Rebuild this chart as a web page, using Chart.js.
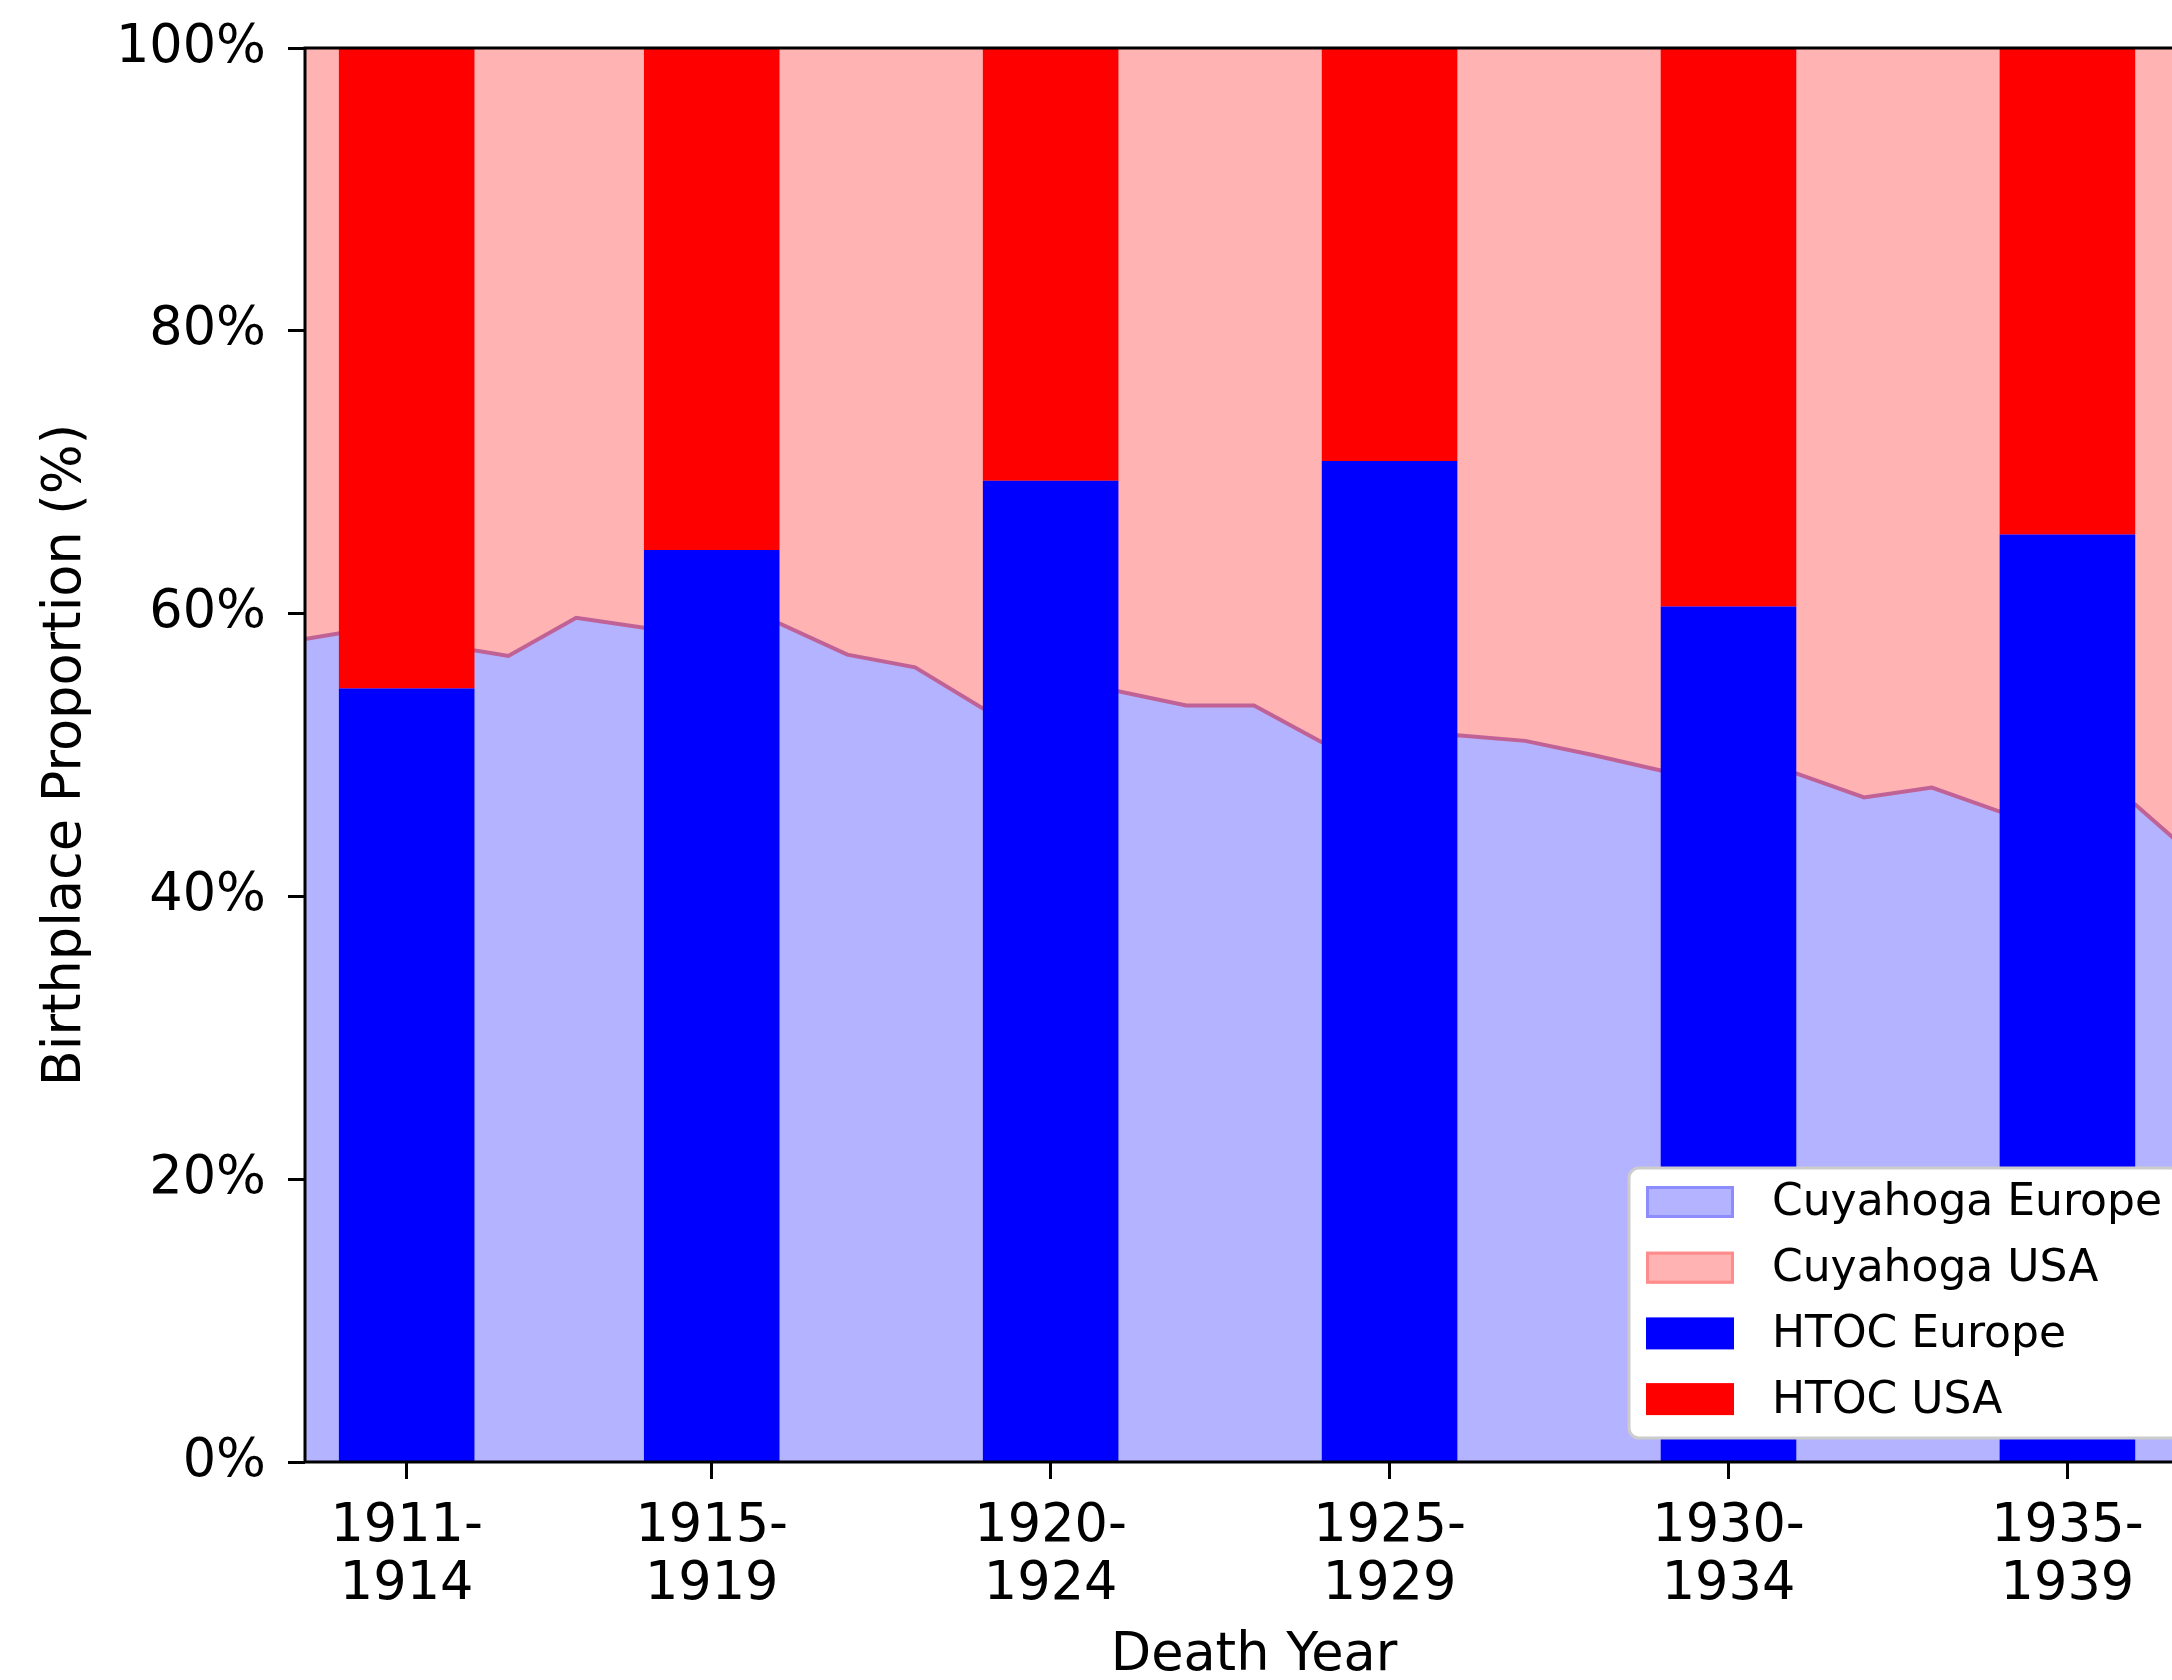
<!DOCTYPE html>
<html>
<head>
<meta charset="utf-8">
<title>Birthplace Proportion by Death Year</title>
<script src="https://cdn.jsdelivr.net/npm/chart.js@4.4.1/dist/chart.umd.min.js"></script>
<style>
  html, body { margin: 0; padding: 0; background: #fff; overflow: hidden; }
  canvas { display: block; }
</style>
</head>
<body>
<canvas id="chart" width="2260" height="1680"></canvas>
<script>
// Cuyahoga county, yearly birthplace shares (%)
const years = [1911, 1912, 1913, 1914, 1915, 1916, 1917, 1918, 1919, 1920,
               1921, 1922, 1923, 1924, 1925, 1926, 1927, 1928, 1929, 1930,
               1931, 1932, 1933, 1934, 1935, 1936, 1937, 1938, 1939];
const cuyahogaEurope = [58.2, 59.0, 57.8, 57.0, 59.7, 59.0, 59.4, 59.3, 57.1, 56.2,
                        53.3, 53.9, 54.5, 53.5, 53.5, 50.9, 51.2, 51.4, 51.0, 50.0,
                        48.9, 48.9, 48.7, 47.0, 47.7, 46.0, 46.3, 46.5, 42.3];
const cuyahogaUSA = [41.8, 41.0, 42.2, 43.0, 40.3, 41.0, 40.6, 40.7, 42.9, 43.8,
                     46.7, 46.1, 45.5, 46.5, 46.5, 49.1, 48.8, 48.6, 49.0, 50.0,
                     51.1, 51.1, 51.3, 53.0, 52.3, 54.0, 53.7, 53.5, 57.7];

// HTOC, five-year groups (%)
const groupCenters = [1912.5, 1917, 1922, 1927, 1932, 1937];
const groupLabels = [['1911-', '1914'], ['1915-', '1919'], ['1920-', '1924'],
                     ['1925-', '1929'], ['1930-', '1934'], ['1935-', '1939']];
const htocEurope = [54.7, 64.5, 69.4, 70.8, 60.5, 65.6];
const htocUSA = [45.3, 35.5, 30.6, 29.2, 39.5, 34.4];

const yTicks = [0, 20, 40, 60, 80, 100];

const FONT = 'DejaVu Sans';
const FONT_SIZE = 52.5;

// matplotlib-like frame around the axes
const spines = {
    id: 'spines',
    afterDatasetsDraw(chart) {
        const { ctx, chartArea: a } = chart;
        ctx.save();
        ctx.strokeStyle = '#000';
        ctx.lineWidth = 3;
        ctx.strokeRect(a.left, a.top, a.right - a.left, a.bottom - a.top);
        ctx.restore();
    }
};

// legend box in the lower right corner of the axes
const boxLegend = {
    id: 'boxLegend',
    afterDraw(chart) {
        const { ctx, chartArea: a } = chart;
        const right = a.right - 22, bottom = a.bottom - 24;
        const w = 552, h = 270;
        const left = right - w, top = bottom - h;
        ctx.save();
        ctx.beginPath();
        ctx.roundRect(left, top, w, h, 10);
        ctx.fillStyle = '#ffffff';
        ctx.fill();
        ctx.strokeStyle = '#cccccc';
        ctx.lineWidth = 3;
        ctx.stroke();

        ctx.font = '44px "' + FONT + '"';
        ctx.textBaseline = 'middle';
        ctx.textAlign = 'left';
        chart.data.datasets.forEach((ds, i) => {
            const cy = top + 34 + i * 65.7;
            const hx = left + 17;
            ctx.fillStyle = ds.backgroundColor;
            ctx.fillRect(hx, cy - 16, 88, 32);
            if (ds.legendEdge) {
                ctx.strokeStyle = ds.legendEdge;
                ctx.lineWidth = 3;
                ctx.strokeRect(hx + 1.5, cy - 14.5, 85, 29);
            }
            ctx.fillStyle = '#000';
            ctx.fillText(ds.label, left + 143, cy + 2);
        });
        ctx.restore();
    }
};

const ctx = document.getElementById('chart').getContext('2d');
new Chart(ctx, {
    type: 'bar',
    data: {
        datasets: [
            {
                type: 'line',
                label: 'Cuyahoga Europe',
                data: years.map((yr, i) => ({ x: yr, y: cuyahogaEurope[i] })),
                stack: 'cuyahoga',
                fill: 'origin',
                backgroundColor: 'rgb(179,179,255)',
                borderColor: 'rgb(192,98,150)',
                borderWidth: 4,
                legendEdge: 'rgb(140,140,255)',
                pointRadius: 0,
                tension: 0,
                order: 2
            },
            {
                type: 'line',
                label: 'Cuyahoga USA',
                data: years.map((yr, i) => ({ x: yr, y: cuyahogaUSA[i] })),
                stack: 'cuyahoga',
                fill: '-1',
                backgroundColor: 'rgb(255,179,179)',
                borderWidth: 0,
                legendEdge: 'rgb(255,140,140)',
                pointRadius: 0,
                tension: 0,
                order: 2
            },
            {
                label: 'HTOC Europe',
                data: groupCenters.map((x, i) => ({ x: x, y: htocEurope[i] })),
                stack: 'htoc',
                backgroundColor: '#0000ff',
                borderWidth: 0,
                categoryPercentage: 1,
                barPercentage: 2 / 4.5,
                order: 1
            },
            {
                label: 'HTOC USA',
                data: groupCenters.map((x, i) => ({ x: x, y: htocUSA[i] })),
                stack: 'htoc',
                backgroundColor: '#ff0000',
                borderWidth: 0,
                categoryPercentage: 1,
                barPercentage: 2 / 4.5,
                order: 1
            }
        ]
    },
    options: {
        responsive: false,
        animation: false,
        devicePixelRatio: 1,
        layout: { padding: { left: 0, right: 57, top: 48, bottom: 0 } },
        plugins: {
            legend: { display: false },
            tooltip: { enabled: false }
        },
        scales: {
            x: {
                type: 'linear',
                min: 1911,
                max: 1939,
                offset: false,
                border: { display: false },
                grid: {
                    offset: false,
                    drawOnChartArea: false,
                    drawTicks: true,
                    tickLength: 17,
                    tickWidth: 3,
                    tickColor: '#000'
                },
                afterBuildTicks: (scale) => {
                    scale.ticks = groupCenters.map(v => ({ value: v }));
                },
                afterFit: (scale) => {
                    scale.height = 218;
                    scale.paddingLeft = 0;
                    scale.paddingRight = 0;
                },
                ticks: {
                    autoSkip: false,
                    maxRotation: 0,
                    minRotation: 0,
                    padding: 19,
                    color: '#000',
                    font: { family: FONT, size: FONT_SIZE, lineHeight: 1.105 },
                    callback: (value) => {
                        const i = groupCenters.indexOf(value);
                        return i >= 0 ? groupLabels[i] : '';
                    }
                },
                title: {
                    display: true,
                    text: 'Death Year',
                    color: '#000',
                    font: { family: FONT, size: FONT_SIZE, lineHeight: 1 },
                    padding: { top: 0, bottom: -3 }
                }
            },
            y: {
                stacked: true,
                min: 0,
                max: 100,
                border: { display: false },
                grid: {
                    drawOnChartArea: false,
                    drawTicks: true,
                    tickLength: 17,
                    tickWidth: 3,
                    tickColor: '#000'
                },
                afterBuildTicks: (scale) => {
                    scale.ticks = yTicks.map(v => ({ value: v }));
                },
                afterFit: (scale) => {
                    scale.width = 305;
                    scale.paddingTop = 0;
                    scale.paddingBottom = 0;
                },
                ticks: {
                    padding: 22,
                    color: '#000',
                    font: { family: FONT, size: FONT_SIZE },
                    callback: (value) => value + '%'
                },
                title: {
                    display: true,
                    text: 'Birthplace Proportion (%)',
                    color: '#000',
                    font: { family: FONT, size: FONT_SIZE, lineHeight: 1 },
                    padding: { top: 40, bottom: 0 }
                }
            }
        }
    },
    plugins: [spines, boxLegend]
});
</script>
</body>
</html>
